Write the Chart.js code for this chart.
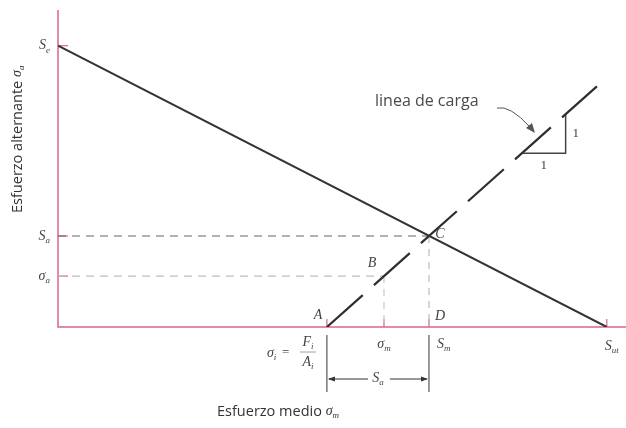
<!DOCTYPE html>
<html>
<head>
<meta charset="utf-8">
<script src="https://cdn.jsdelivr.net/npm/chart.js@4"></script>
<style>
  html, body { margin: 0; padding: 0; background: #fff; }
  #wrap { width: 626px; height: 428px; }
</style>
</head>
<body>
<div id="wrap"><canvas id="goodman" width="626" height="428"></canvas></div>
<script>
// Goodman diagram data (stress units, Sut = 100)
const meanTicks = [49, 59.4, 67.6, 100];            // σi, σm, Sm, Sut
const altTicks = [10.4, 18.6, 57.5];                // σa, Sa, Se
const goodmanX = [0, 100];
const goodmanY = [57.5, 0];
const loadX = [49, 98.2];
const loadY = [0, 49.2];
const slopeX = [84.5, 92.5, 92.5];
const slopeY = [35.5, 35.5, 43.5];
const pointNames = ['A', 'B', 'C', 'D'];
const pointX = [49, 59.4, 67.6, 67.6];
const pointY = [0, 10.4, 18.6, 0];

const pink = '#d9648c';
const serif = '"Liberation Serif", "DejaVu Serif", serif';
const sans = '"Open Sans", "Noto Sans", sans-serif';

const pts = (xs, ys) => xs.map((x, i) => ({ x: x, y: ys[i] }));

// S_e style label: italic letter with small subscript
function subLabel(ctx, x, y, main, sub, align) {
  ctx.font = 'italic 14px ' + serif;
  const w1 = ctx.measureText(main).width;
  ctx.font = 'italic 9px ' + serif;
  const w2 = ctx.measureText(sub).width;
  let x0 = x;
  if (align === 'right') x0 = x - w1 - w2;
  if (align === 'center') x0 = x - (w1 + w2) / 2;
  ctx.textAlign = 'left';
  ctx.textBaseline = 'middle';
  ctx.font = 'italic 14px ' + serif;
  ctx.fillText(main, x0, y);
  ctx.font = 'italic 9px ' + serif;
  ctx.fillText(sub, x0 + w1, y + 5);
}

function arrowHead(ctx, x, y, dir) {
  ctx.beginPath();
  ctx.moveTo(x, y);
  ctx.lineTo(x - dir * 7, y - 2.5);
  ctx.lineTo(x - dir * 7, y + 2.5);
  ctx.closePath();
  ctx.fill();
}

const diagramMarks = {
  id: 'diagramMarks',
  beforeDatasetsDraw(chart) {
    const { ctx, chartArea: a } = chart;
    const xs = chart.scales.x, ys = chart.scales.y;
    ctx.save();
    ctx.strokeStyle = pink;
    ctx.lineWidth = 1.5;
    ctx.beginPath();
    ctx.moveTo(a.left, a.top);
    ctx.lineTo(a.left, a.bottom);
    ctx.lineTo(a.right, a.bottom);
    ctx.stroke();
    ctx.lineWidth = 1.2;
    altTicks.forEach(v => {
      const py = ys.getPixelForValue(v);
      ctx.beginPath();
      ctx.moveTo(a.left, py);
      ctx.lineTo(a.left + 10, py);
      ctx.stroke();
    });
    meanTicks.forEach(v => {
      const px = xs.getPixelForValue(v);
      ctx.beginPath();
      ctx.moveTo(px, a.bottom);
      ctx.lineTo(px, a.bottom - 8);
      ctx.stroke();
    });
    ctx.restore();
  },
  afterDraw(chart) {
    const { ctx, chartArea: a } = chart;
    const xs = chart.scales.x, ys = chart.scales.y;
    ctx.save();
    ctx.fillStyle = '#444';

    // stress labels on the alternating axis
    subLabel(ctx, a.left - 8, ys.getPixelForValue(altTicks[2]), 'S', 'e', 'right');
    subLabel(ctx, a.left - 8, ys.getPixelForValue(altTicks[1]), 'S', 'a', 'right');
    subLabel(ctx, a.left - 8, ys.getPixelForValue(altTicks[0]), 'σ', 'a', 'right');

    // stress labels under the mean axis
    const yb = a.bottom + 17;
    subLabel(ctx, xs.getPixelForValue(meanTicks[1]), yb, 'σ', 'm', 'center');
    subLabel(ctx, xs.getPixelForValue(meanTicks[2]) + 8, yb, 'S', 'm', 'left');
    subLabel(ctx, xs.getPixelForValue(meanTicks[3]) - 2, yb + 2, 'S', 'ut', 'left');

    // σi = Fi / Ai
    const xi = xs.getPixelForValue(meanTicks[0]);
    subLabel(ctx, xi - 60, yb + 9, 'σ', 'i', 'left');
    ctx.font = '13px ' + serif;
    ctx.textBaseline = 'middle';
    ctx.fillText('=', xi - 45, yb + 9);
    subLabel(ctx, xi - 19, yb - 2, 'F', 'i', 'center');
    subLabel(ctx, xi - 19, yb + 18, 'A', 'i', 'center');
    ctx.strokeStyle = '#888';
    ctx.lineWidth = 0.8;
    ctx.beginPath();
    ctx.moveTo(xi - 27, yb + 8);
    ctx.lineTo(xi - 11, yb + 8);
    ctx.stroke();

    // Sa span between σi and Sm
    const xm = xs.getPixelForValue(meanTicks[2]);
    ctx.strokeStyle = '#333';
    ctx.lineWidth = 1;
    ctx.beginPath();
    ctx.moveTo(xi, a.bottom + 8); ctx.lineTo(xi, a.bottom + 65);
    ctx.moveTo(xm, a.bottom + 8); ctx.lineTo(xm, a.bottom + 65);
    const ya = a.bottom + 52, xc = (xi + xm) / 2;
    ctx.moveTo(xi + 2, ya); ctx.lineTo(xc - 10, ya);
    ctx.moveTo(xc + 12, ya); ctx.lineTo(xm - 2, ya);
    ctx.stroke();
    ctx.fillStyle = '#333';
    arrowHead(ctx, xi + 1, ya, -1);
    arrowHead(ctx, xm - 1, ya, 1);
    ctx.fillStyle = '#444';
    subLabel(ctx, xc, ya - 1, 'S', 'a', 'center');

    // point letters
    ctx.font = 'italic 14px ' + serif;
    ctx.textAlign = 'center';
    ctx.textBaseline = 'middle';
    const offs = [[-9, -12], [-12, -13], [11, -2], [11, -11]];
    pointNames.forEach((n, i) => {
      ctx.fillText(n, xs.getPixelForValue(pointX[i]) + offs[i][0], ys.getPixelForValue(pointY[i]) + offs[i][1]);
    });

    // 1:1 slope marks
    ctx.font = '13px ' + serif;
    ctx.fillText('1', xs.getPixelForValue(slopeX[2]) + 10, ys.getPixelForValue((slopeY[1] + slopeY[2]) / 2));
    ctx.fillText('1', xs.getPixelForValue((slopeX[0] + slopeX[1]) / 2), ys.getPixelForValue(slopeY[0]) + 12);

    // load line caption with curved pointer
    ctx.font = '16px ' + sans;
    ctx.fillStyle = '#4a4a4a';
    ctx.textAlign = 'left';
    ctx.fillText('linea de carga', 375, 101);
    ctx.strokeStyle = '#555';
    ctx.lineWidth = 1;
    ctx.beginPath();
    ctx.moveTo(497, 108);
    ctx.quadraticCurveTo(510, 105, 530, 127);
    ctx.stroke();
    ctx.fillStyle = '#555';
    ctx.beginPath();
    ctx.moveTo(535, 133);
    ctx.lineTo(526, 128);
    ctx.lineTo(532, 123);
    ctx.closePath();
    ctx.fill();

    // axis titles
    ctx.fillStyle = '#333';
    ctx.font = '14.5px ' + sans;
    ctx.textBaseline = 'middle';
    ctx.fillText('Esfuerzo medio ', 217, 412);
    const tw = ctx.measureText('Esfuerzo medio ').width;
    subLabel(ctx, 217 + tw, 411, 'σ', 'm', 'left');

    ctx.translate(18, 138);
    ctx.rotate(-Math.PI / 2);
    ctx.font = '14.5px ' + sans;
    const tt = 'Esfuerzo alternante ';
    const w = ctx.measureText(tt).width;
    const x0 = -(w + 14) / 2;
    ctx.textAlign = 'left';
    ctx.fillText(tt, x0, 0);
    subLabel(ctx, x0 + w, -1, 'σ', 'a', 'left');
    ctx.restore();
  }
};

new Chart(document.getElementById('goodman'), {
  type: 'scatter',
  data: {
    datasets: [
      { data: pts(goodmanX, goodmanY), borderColor: '#333', borderWidth: 2 },
      { data: pts(loadX, loadY), borderColor: '#2e2e2e', borderWidth: 2.2, borderDash: [48, 15] },
      { data: pts([0, pointX[2]], [pointY[2], pointY[2]]), borderColor: '#666', borderWidth: 1.2, borderDash: [8, 6] },
      { data: pts([pointX[2], pointX[2]], [pointY[2], 0]), borderColor: '#bbb', borderWidth: 1.2, borderDash: [7, 6] },
      { data: pts([0, pointX[1]], [pointY[1], pointY[1]]), borderColor: '#bdbdbd', borderWidth: 1.2, borderDash: [8, 6] },
      { data: pts([pointX[1], pointX[1]], [pointY[1], 0]), borderColor: '#c8c8c8', borderWidth: 1.2, borderDash: [7, 6] },
      { data: pts(slopeX, slopeY), borderColor: '#444', borderWidth: 1.5 }
    ].map(d => Object.assign({ showLine: true, pointRadius: 0, fill: false, tension: 0 }, d))
  },
  options: {
    responsive: false,
    animation: false,
    layout: { padding: { left: 58, top: 10, right: 0, bottom: 101 } },
    plugins: { legend: { display: false }, tooltip: { enabled: false } },
    scales: {
      x: { type: 'linear', display: false, min: 0, max: 103.5 },
      y: { type: 'linear', display: false, min: 0, max: 64.8 }
    }
  },
  plugins: [diagramMarks]
});
</script>
</body>
</html>
